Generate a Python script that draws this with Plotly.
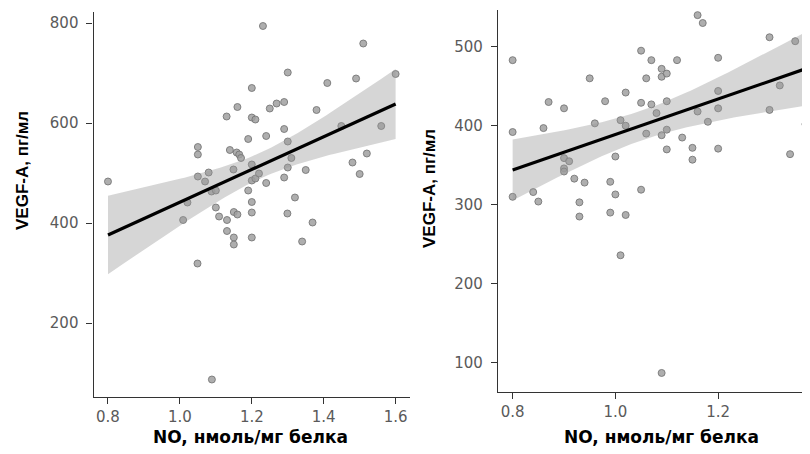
import numpy as np
import plotly.graph_objects as go

# ---- Left panel data (NO, nmol/mg protein vs VEGF-A, pg/ml) ----
left_x = [0.80, 1.009, 1.021, 1.049, 1.05, 1.05, 1.05, 1.07, 1.08, 1.088, 1.10, 1.10,
          1.109, 1.131, 1.131, 1.13, 1.139, 1.149, 1.15, 1.15, 1.15, 1.158, 1.165, 1.17,
          1.16, 1.16, 1.19, 1.19, 1.20, 1.20, 1.21, 1.20, 1.20, 1.20, 1.20, 1.20, 1.21,
          1.22, 1.231, 1.24, 1.24, 1.25, 1.269, 1.29, 1.29, 1.29, 1.30, 1.30, 1.30, 1.299,
          1.31, 1.32, 1.34, 1.35, 1.369, 1.38, 1.41, 1.449, 1.48, 1.49, 1.50, 1.51, 1.52,
          1.56, 1.60, 1.089]
left_y = [483, 406, 441, 319, 552, 537, 493, 483, 501, 463, 465, 431,
          413, 406, 384, 613, 546, 507, 422, 371, 357, 541, 537, 530,
          632, 417, 568, 465, 670, 611, 607, 517, 485, 442, 421, 371, 489,
          499, 794, 574, 480, 629, 639, 642, 588, 491, 701, 563, 511, 419,
          530, 451, 363, 506, 401, 626, 680, 594, 521, 689, 498, 759, 539,
          594, 698, 87]

# ---- Right panel data ----
right_x = [0.80, 0.80, 0.80, 0.84, 0.85, 0.86, 0.87, 0.90, 0.90, 0.91, 0.90, 0.90,
           0.92, 0.93, 0.93, 0.94, 0.95, 0.96, 0.98, 0.99, 0.99, 1.00, 1.00, 1.01,
           1.01, 1.02, 1.02, 1.02, 1.05, 1.05, 1.05, 1.06, 1.06, 1.07, 1.07, 1.08,
           1.09, 1.09, 1.09, 1.09, 1.10, 1.10, 1.10, 1.10, 1.12, 1.13, 1.15, 1.15,
           1.16, 1.17, 1.16, 1.18, 1.20, 1.20, 1.20, 1.20, 1.30, 1.30, 1.32, 1.34,
           1.35, 1.37]
right_y = [483, 392, 310, 316, 304, 397, 430, 422, 359, 355, 346, 342,
           333, 303, 285, 328, 460, 403, 431, 329, 290, 361, 313, 407,
           236, 442, 400, 287, 495, 429, 319, 460, 390, 483, 427, 416,
           472, 462, 388, 87, 466, 431, 395, 370, 483, 385, 372, 357,
           540, 530, 418, 405, 486, 444, 422, 371, 512, 420, 451, 364,
           507, 402]

# regression lines (ends of the fitted line)
left_fit_x = [0.80, 1.60]
left_fit_y = [376, 638]
right_fit_x = [0.80, 1.37]
right_fit_y = [344, 472]

left_xticks = [0.8, 1.0, 1.2, 1.4, 1.6]
left_yticks = [200, 400, 600, 800]
right_xticks = [0.8, 1.0, 1.2]
right_yticks = [100, 200, 300, 400, 500]

x_title = "NO, нмоль/мг белка"
y_title = "VEGF-A, пг/мл"


def band(x, y, fx, fy, n_grid=80, t=1.998):
    """Fitted line through the read end points, with a 95% confidence band
    computed from the scatter of the points around it."""
    x = np.asarray(x, float)
    y = np.asarray(y, float)
    n = len(x)
    b = (fy[1] - fy[0]) / (fx[1] - fx[0])
    a = fy[0] - b * fx[0]
    res = y - (a + b * x)
    s = np.sqrt(np.sum(res ** 2) / (n - 2))
    xm = x.mean()
    sxx = np.sum((x - xm) ** 2)
    gx = np.linspace(fx[0], fx[1], n_grid)
    gy = a + b * gx
    se = s * np.sqrt(1.0 / n + (gx - xm) ** 2 / sxx)
    return gx, gy, gy - t * se, gy + t * se


# page has an 8px body margin: work in page pixels, convert to figure pixels
OFF = 8
W, H = 810 - OFF, 454 - OFF


def fx_(px):
    return (px - OFF) / W


def fy_(py):
    return (H - (py - OFF)) / H


fig = go.Figure()

panels = [
    (left_x, left_y, left_fit_x, left_fit_y, "x", "y"),
    (right_x, right_y, right_fit_x, right_fit_y, "x2", "y2"),
]
for px, py, fxs, fys, xa, ya in panels:
    fig.add_trace(go.Scatter(
        x=px, y=py, mode="markers", xaxis=xa, yaxis=ya, showlegend=False,
        marker=dict(size=7, color="rgba(160,160,160,0.85)",
                    line=dict(color="rgba(115,115,115,0.85)", width=1)),
        hoverinfo="skip"))
    gx, gy, lo, hi = band(px, py, fxs, fys)
    fig.add_trace(go.Scatter(
        x=np.concatenate([gx, gx[::-1]]), y=np.concatenate([hi, lo[::-1]]),
        mode="lines", fill="toself", fillcolor="rgba(153,153,153,0.4)",
        line=dict(width=0), xaxis=xa, yaxis=ya, showlegend=False, hoverinfo="skip"))
    fig.add_trace(go.Scatter(
        x=gx, y=gy, mode="lines", line=dict(color="black", width=3.2),
        xaxis=xa, yaxis=ya, showlegend=False, hoverinfo="skip"))

axis_common = dict(
    showline=True, linecolor="#333333", linewidth=1.3, showgrid=False, zeroline=False,
    ticks="outside", ticklen=6, tickwidth=1.3, tickcolor="#333333",
    tickfont=dict(family="DejaVu Sans", size=15, color="#5a5a5a"),
    mirror=False,
)

fig.update_layout(
    width=W, height=H, margin=dict(l=0, r=0, t=0, b=0),
    plot_bgcolor="white", paper_bgcolor="white",
    xaxis=dict(domain=[fx_(93.6), fx_(410)], range=[0.76, 1.64], anchor="y",
               tickvals=left_xticks, tickformat=".1f", **axis_common),
    yaxis=dict(domain=[fy_(397), fy_(12)], range=[52, 822], anchor="x",
               tickvals=left_yticks, ticklabelstandoff=5, **axis_common),
    xaxis2=dict(domain=[fx_(498), 1.0], range=[0.7715, 1.3788], anchor="y2",
                tickvals=right_xticks, tickformat=".1f", **axis_common),
    yaxis2=dict(domain=[fy_(392), fy_(10)], range=[62.9, 546.5], anchor="x2",
                tickvals=right_yticks, ticklabelstandoff=5, **axis_common),
)

xt_font = dict(family="DejaVu Sans", size=17, color="black")
yt_font = dict(family="Liberation Sans", size=17, color="black")
for cx, cy in [(250, 437), (661, 437)]:
    fig.add_annotation(text="<b>" + x_title + "</b>", xref="paper", yref="paper",
                       x=fx_(cx), y=fy_(cy), showarrow=False, font=xt_font,
                       xanchor="center", yanchor="middle")
for cx, cy in [(23, 171), (430, 189)]:
    fig.add_annotation(text="<b>" + y_title + "</b>", xref="paper", yref="paper",
                       x=fx_(cx), y=fy_(cy), showarrow=False, font=yt_font,
                       textangle=-90, xanchor="center", yanchor="middle")

fig.write_html("out.html")
